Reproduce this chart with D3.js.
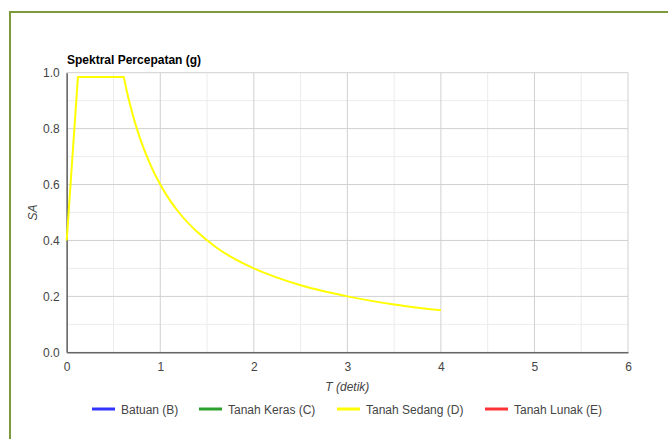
<!DOCTYPE html>
<html>
<head>
<meta charset="utf-8">
<script src="https://cdn.jsdelivr.net/npm/d3@7"></script>
<style>
  html, body { margin: 0; padding: 0; background: #fff; }
  svg { display: block; font-family: "Liberation Sans", Arial, sans-serif; }
</style>
</head>
<body>
<svg width="668" height="439"></svg>
<script>
// series names + colours shown in the legend
var seriesNames = ["Batuan (B)", "Tanah Keras (C)", "Tanah Sedang (D)", "Tanah Lunak (E)"];
var seriesColors = ["#3333ff", "#2ca02c", "#ffff00", "#ff3333"];

// only Tanah Sedang (D) has visible data
var periodT = [0, 0.12, 0.61, 0.65, 0.7, 0.75, 0.8, 0.9, 1.0, 1.1, 1.2, 1.4, 1.6, 1.8, 2.0, 2.25, 2.5, 2.75, 3.0, 3.5, 4.0];
var sedangSA = [0.4, 0.985, 0.985, 0.923, 0.857, 0.8, 0.75, 0.667, 0.6, 0.545, 0.5, 0.429, 0.375, 0.333, 0.3, 0.267, 0.24, 0.218, 0.2, 0.171, 0.15];

var xTicks = [0, 1, 2, 3, 4, 5, 6];
var xMinor = [0.5, 1.5, 2.5, 3.5, 4.5, 5.5];
var yTicks = [0, 0.2, 0.4, 0.6, 0.8, 1.0];
var yMinor = [0.1, 0.3, 0.5, 0.7, 0.9];

var svg = d3.select("svg"),
    margin = {top: 72.7, right: 40, bottom: 86.7, left: 66.7},
    width = 668 - margin.left - margin.right,
    height = 439 - margin.top - margin.bottom;

// outer page border
svg.append("rect")
  .attr("x", 10).attr("y", 12)
  .attr("width", 700).attr("height", 500)
  .attr("fill", "none")
  .attr("stroke", "#7d9a3c")
  .attr("stroke-width", 2);

var g = svg.append("g").attr("transform", "translate(" + margin.left + "," + margin.top + ")");

var x = d3.scaleLinear().domain([0, 6]).range([0, width]);
var y = d3.scaleLinear().domain([0, 1]).range([height, 0]);

// minor grid
g.append("g").selectAll("line").data(xMinor).enter().append("line")
  .attr("x1", d => x(d)).attr("x2", d => x(d))
  .attr("y1", 0).attr("y2", height)
  .attr("stroke", "#ececec");
g.append("g").selectAll("line").data(yMinor).enter().append("line")
  .attr("x1", 0).attr("x2", width)
  .attr("y1", d => y(d)).attr("y2", d => y(d))
  .attr("stroke", "#ececec");

// major grid
g.append("g").selectAll("line").data(xTicks).enter().append("line")
  .attr("x1", d => x(d)).attr("x2", d => x(d))
  .attr("y1", 0).attr("y2", height)
  .attr("stroke", "#d0d0d0");
g.append("g").selectAll("line").data(yTicks).enter().append("line")
  .attr("x1", 0).attr("x2", width)
  .attr("y1", d => y(d)).attr("y2", d => y(d))
  .attr("stroke", "#d0d0d0");

// axes (no tick marks, just labels)
var xAxis = g.append("g")
  .attr("transform", "translate(0," + height + ")")
  .call(d3.axisBottom(x).tickValues(xTicks).tickSize(0).tickPadding(10).tickFormat(d3.format("d")));
xAxis.select(".domain").attr("stroke", "#666").attr("stroke-width", 1.5);
xAxis.selectAll("text").attr("font-size", 12).attr("fill", "#444").attr("font-family", "Liberation Sans, Arial, sans-serif");

var yAxis = g.append("g")
  .call(d3.axisLeft(y).tickValues(yTicks).tickSize(0).tickPadding(7).tickFormat(d3.format(".1f")));
yAxis.select(".domain").attr("stroke", "#666").attr("stroke-width", 1.5);
yAxis.selectAll("text").attr("font-size", 12).attr("fill", "#444").attr("font-family", "Liberation Sans, Arial, sans-serif");

// the line: straight rise + plateau, smooth decay
var data = periodT.map((t, i) => ({t: t, sa: sedangSA[i]}));
var straight = d3.line().x(d => x(d.t)).y(d => y(d.sa));
var smooth = d3.line().x(d => x(d.t)).y(d => y(d.sa)).curve(d3.curveMonotoneX);

g.append("path")
  .datum(data)
  .attr("fill", "none")
  .attr("stroke", seriesColors[2])
  .attr("stroke-width", 2)
  .attr("stroke-linejoin", "round")
  .attr("d", straight(data.slice(0, 3)) + smooth(data.slice(2)).replace(/^M/, "L"));

// title + axis titles
svg.append("text")
  .attr("x", 67).attr("y", 64)
  .attr("font-size", 12).attr("font-weight", "bold").attr("fill", "#000")
  .text("Spektral Percepatan (g)");

svg.append("text")
  .attr("x", margin.left + width / 2).attr("y", 391)
  .attr("text-anchor", "middle")
  .attr("font-size", 12).attr("font-style", "italic").attr("fill", "#444")
  .text("T (detik)");

svg.append("text")
  .attr("transform", "translate(37," + (margin.top + height / 2) + ") rotate(-90)")
  .attr("text-anchor", "middle")
  .attr("font-size", 12).attr("font-style", "italic").attr("fill", "#444")
  .text("SA");

// legend
var legendX = [92, 199, 337, 485];
var leg = svg.append("g").selectAll("g").data(seriesNames).enter().append("g")
  .attr("transform", (d, i) => "translate(" + legendX[i] + ",409)");
leg.append("line")
  .attr("x1", 0).attr("x2", 23)
  .attr("stroke", (d, i) => seriesColors[i])
  .attr("stroke-width", 3);
leg.append("text")
  .attr("x", 29).attr("y", 4.5)
  .attr("font-size", 12).attr("fill", "#444")
  .text(d => d);
</script>
</body>
</html>
